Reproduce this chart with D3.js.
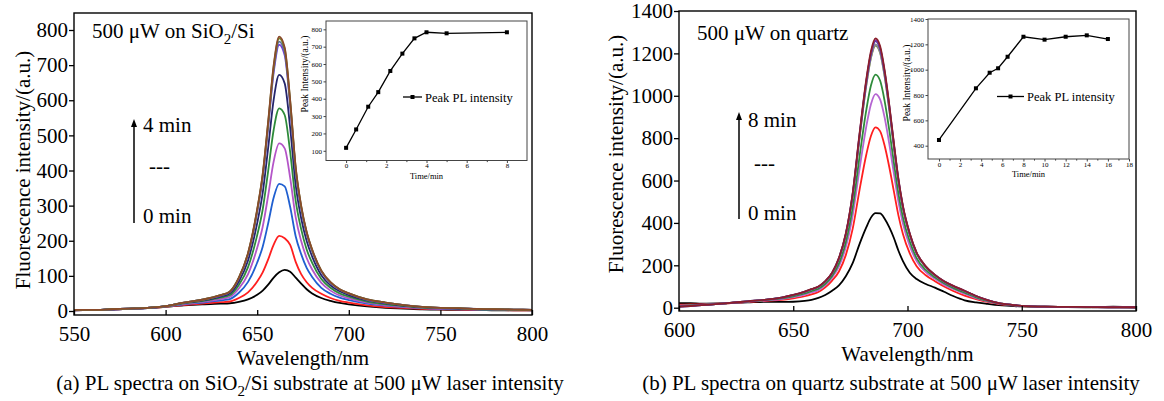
<!DOCTYPE html>
<html>
<head>
<meta charset="utf-8">
<script src="https://cdn.jsdelivr.net/npm/d3@7"></script>
<style>
  html, body { margin: 0; padding: 0; background: #fff; }
  svg { display: block; }
</style>
</head>
<body>
<svg id="fig" width="1164" height="401"></svg>
<script>
// ===================== Panel (a): SiO2/Si substrate =====================
const wavelengthA = [550,560,570,580,590,600,610,620,630,635,640,645,650,653,656,659,662,665,668,671,674,677,680,685,690,695,700,710,720,730,740,750,760,770,780,790,800];

const siCurve1  = [2,3,4,6,8,12,16,19,21,22,26,33,46,58,75,95,110,117,112,95,78,62,50,37,29,23,19,13,9,7,5,4,3,3,2,2,2];
const siCurve2  = [2,3,4,6,8,12,17,21,25,27,37,53,84,110,147,189,214,207,188,140,105,82,66,49,37,29,24,16,11,9,6,5,4,3,3,2,2];
const siCurve3  = [2,3,4,6,8,13,19,24,30,34,52,83,138,183,250,323,362,355,296,213,162,123,97,66,49,38,31,21,15,11,8,6,5,4,3,3,2];
const siCurve4  = [3,3,5,7,9,13,20,26,34,40,64,105,180,240,329,426,477,463,379,267,199,151,118,80,58,44,36,24,17,12,9,7,6,5,4,3,3];
const siCurve5  = [3,3,5,7,9,13,22,28,38,45,74,125,216,289,399,516,577,558,452,314,233,175,137,91,66,50,41,27,19,14,10,8,7,5,4,3,3];
const siCurve6  = [3,3,5,7,9,14,23,30,41,50,84,144,250,336,465,602,672,648,521,359,264,199,155,102,73,56,45,30,22,15,11,8,7,6,5,4,3];
const siCurve7  = [3,3,5,7,9,14,24,32,44,54,93,160,282,379,524,679,758,728,583,399,292,219,171,112,80,61,49,32,23,17,12,9,8,6,5,4,3];
const siCurve8  = [3,3,5,7,9,14,24,32,45,55,94,162,285,383,530,687,767,737,590,403,295,222,172,113,81,61,50,33,24,17,12,9,8,6,5,4,3];
const siCurve9  = [3,3,5,7,9,14,24,32,45,55,95,164,288,388,537,696,776,746,597,408,298,224,174,115,82,62,50,33,24,17,12,9,8,6,5,4,3];
const siCurve10 = [3,3,5,7,9,14,24,32,45,55,95,165,290,390,540,700,781,750,600,410,300,225,175,115,82,62,50,33,24,17,12,9,8,6,5,4,3];

const siColors = ["#000000","#ff1f1f","#1f5fd0","#b455c8","#2e8b3a","#25256b","#7440d8","#5c6f9c","#6f8a2c","#8a4a2a"];

const xTicksA = [550,600,650,700,750,800];
const yTicksA = [0,100,200,300,400,500,600,700,800];

const insetTimeA = [0,0.5,1.1,1.6,2.2,2.8,3.4,4,5,8];
const insetPeakA = [117,223,354,438,560,660,748,783,777,783];
const insetXTicksA = [0,2,4,6,8];
const insetXMinorA = [1,3,5,7];
const insetYTicksA = [100,200,300,400,500,600,700,800];

// ===================== Panel (b): quartz substrate =====================
const wavelengthB = [600,605,610,620,630,640,645,650,655,658,661,664,667,670,673,676,679,682,684,686,688,690,692,694,696,698,701,704,708,712,716,720,725,730,735,740,745,750,760,770,780,790,800];

const qzCurve1 = [22,22,19,21,25,28,27,28,32,37,46,60,80,105,148,210,300,380,425,446,445,420,380,330,270,220,165,135,112,95,75,55,35,25,18,12,9,6,4,3,2,5,1];
const qzCurve2 = [14,15,16,20,27,34,37,44,54,63,74,96,128,171,248,372,555,724,810,851,833,764,665,551,437,348,256,196,153,125,100,79,57,40,27,17,12,8,5,4,3,3,2];
const qzCurve3 = [10,12,14,20,28,36,41,50,62,72,83,107,142,195,286,435,654,857,960,1008,983,897,775,636,502,397,291,220,168,136,109,88,66,45,30,19,12,8,5,4,3,3,2];
const qzCurve4 = [9,11,13,20,29,38,44,53,67,78,89,113,150,209,309,472,712,935,1048,1100,1072,975,840,687,540,426,312,234,178,143,115,93,71,49,32,20,13,8,5,4,3,3,2];
const qzCurve5 = [6,9,12,20,30,40,47,59,74,86,98,123,162,230,342,526,799,1051,1178,1237,1203,1091,936,762,596,469,342,255,192,152,123,101,78,54,35,22,14,9,5,4,3,2,2];
const qzCurve6 = [6,9,12,20,30,40,47,59,74,86,98,123,162,231,343,528,802,1055,1183,1242,1207,1095,940,764,598,471,344,256,192,153,123,101,78,54,35,22,14,9,5,4,3,2,2];
const qzCurve7 = [5,8,12,20,30,40,48,59,75,87,99,124,164,233,347,535,812,1069,1197,1258,1222,1109,951,773,605,476,347,258,194,154,124,102,79,55,36,22,14,9,5,4,3,2,2];
const qzCurve8 = [5,8,12,20,30,40,48,60,76,87,99,124,164,234,348,536,814,1072,1201,1262,1226,1112,954,775,606,477,348,259,194,155,125,103,80,55,36,22,14,9,5,4,3,2,2];
const qzCurve9 = [5,8,12,20,30,40,48,60,76,88,100,125,165,235,350,540,820,1080,1210,1271,1235,1120,960,780,610,480,350,260,195,155,125,103,80,55,36,22,14,9,5,4,3,2,2];

const qzColors = ["#000000","#ff1f1f","#b565d2","#2e8b3a","#7a8c3a","#8a8a9a","#3a3a9a","#7a35a8","#8b1f2a"];

const xTicksB = [600,650,700,750,800];
const yTicksB = [0,200,400,600,800,1000,1200,1400];

const insetTimeB = [0,3.5,4.8,5.6,6.5,8,10,12,14,16];
const insetPeakB = [445,853,976,1011,1102,1260,1237,1260,1271,1242];
const insetXTicksB = [0,2,4,6,8,10,12,14,16,18];
const insetXMinorB = [1,3,5,7,9,11,13,15,17];
const insetYTicksB = [400,600,800,1000,1200,1400];

// ===================== Drawing =====================
const FONT = '"Liberation Serif","Times New Roman",Times,serif';
const svg = d3.select("#fig");

function styleAxis(sel, size) {
  sel.attr("font-family", FONT).attr("font-size", size);
  sel.select(".domain").remove();
  sel.selectAll(".tick text").attr("fill", "#000");
}

function addRichText(g, cfg, anchor) {
  const t = g.append("text").attr("x", cfg.x).attr("y", cfg.y)
    .attr("font-family", FONT).attr("font-size", 21);
  if (anchor) t.attr("text-anchor", anchor);
  cfg.parts.forEach(part => {
    const ts = t.append("tspan").text(part.text);
    if (part.sub) ts.attr("dy", 6).attr("font-size", 15);
    if (part.after) ts.attr("dy", -6);
  });
}

function drawSpectra(p) {
  const x = d3.scaleLinear().domain(p.xDomain).range([p.left, p.right]);
  const y = d3.scaleLinear().domain(p.yDomain).range([p.bottom, p.top]);
  const g = svg.append("g");

  const clipId = "clip-" + p.id;
  svg.append("clipPath").attr("id", clipId)
    .append("rect").attr("x", p.left).attr("y", p.top)
    .attr("width", p.right - p.left).attr("height", p.bottom - p.top);

  const line = d3.line()
    .x((d, i) => x(p.wl[i]))
    .y(d => y(d))
    .curve(d3.curveMonotoneX);

  const curves = g.append("g").attr("clip-path", `url(#${clipId})`);
  p.series.forEach((s, i) => {
    curves.append("path")
      .attr("d", line(s))
      .attr("fill", "none")
      .attr("stroke", p.colors[i])
      .attr("stroke-width", 1.8)
      .attr("stroke-linejoin", "round");
  });

  // x axis: ticks pointing inward
  const xa = g.append("g").attr("transform", `translate(0,${p.bottom})`)
    .call(d3.axisBottom(x).tickValues(p.xTicks).tickSizeInner(-5).tickSizeOuter(0)
      .tickPadding(p.xPad).tickFormat(d3.format("d")));
  styleAxis(xa, 21);
  xa.selectAll(".tick line").attr("stroke-width", 1.3);

  // y axis: ticks pointing outward
  const ya = g.append("g").attr("transform", `translate(${p.left},0)`)
    .call(d3.axisLeft(y).tickValues(p.yTicks).tickSizeInner(5).tickSizeOuter(0)
      .tickPadding(1).tickFormat(d3.format("d")));
  styleAxis(ya, 21);
  ya.selectAll(".tick line").attr("stroke-width", 1.3);

  // frame
  g.append("rect").attr("x", p.left).attr("y", p.top)
    .attr("width", p.right - p.left).attr("height", p.bottom - p.top)
    .attr("fill", "none").attr("stroke", "#000").attr("stroke-width", 1.4);

  // axis titles
  g.append("text").attr("x", (p.left + p.right) / 2).attr("y", p.xTitleY)
    .attr("text-anchor", "middle").attr("font-family", FONT).attr("font-size", 21)
    .text("Wavelength/nm");
  g.append("text").attr("transform", `translate(${p.yTitleX},${p.yTitleCY}) rotate(-90)`)
    .attr("text-anchor", "middle").attr("font-family", FONT).attr("font-size", 21)
    .text("Fluorescence intensity/(a.u.)");

  // time arrow with labels
  const a = p.arrow;
  g.append("line").attr("x1", a.x).attr("x2", a.x).attr("y1", a.y0).attr("y2", a.y1 + 6)
    .attr("stroke", "#000").attr("stroke-width", 1.5);
  g.append("path")
    .attr("d", `M${a.x - 3},${a.y1 + 8} L${a.x},${a.y1} L${a.x + 3},${a.y1 + 8} Z`)
    .attr("fill", "#000");
  g.append("text").attr("x", a.tx).attr("y", a.topY).attr("font-family", FONT).attr("font-size", 21)
    .text(a.topLabel);
  g.append("text").attr("x", a.dx).attr("y", a.dashY).attr("font-family", FONT).attr("font-size", 21)
    .text("---");
  g.append("text").attr("x", a.tx).attr("y", a.botY).attr("font-family", FONT).attr("font-size", 21)
    .text(a.botLabel);

  addRichText(g, p.label, null);
  addRichText(g, p.caption, "middle");
}

function drawInset(p) {
  const x = d3.scaleLinear().domain(p.xDomain).range([p.left, p.right]);
  const y = d3.scaleLinear().domain(p.yDomain).range([p.bottom, p.top]);
  const g = svg.append("g");

  g.append("rect").attr("x", p.left).attr("y", p.top)
    .attr("width", p.right - p.left).attr("height", p.bottom - p.top)
    .attr("fill", "#fff").attr("stroke", "#444").attr("stroke-width", 1);

  const xa = g.append("g").attr("transform", `translate(0,${p.bottom})`)
    .call(d3.axisBottom(x).tickValues(p.xTicks).tickSizeInner(2.5).tickSizeOuter(0)
      .tickPadding(0.5).tickFormat(d3.format("d")));
  styleAxis(xa, 7);
  xa.selectAll(".tick line").attr("stroke", "#444");
  g.append("g").attr("transform", `translate(0,${p.bottom})`)
    .call(d3.axisBottom(x).tickValues(p.xMinor).tickSizeInner(1.6).tickSizeOuter(0).tickFormat(""))
    .call(s => { s.select(".domain").remove(); s.selectAll(".tick line").attr("stroke", "#444"); });

  const ya = g.append("g").attr("transform", `translate(${p.left},0)`)
    .call(d3.axisLeft(y).tickValues(p.yTicks).tickSizeInner(2.5).tickSizeOuter(0)
      .tickPadding(1.5).tickFormat(d3.format("d")));
  styleAxis(ya, 7);
  ya.selectAll(".tick line").attr("stroke", "#444");

  const line = d3.line().x((d, i) => x(p.time[i])).y(d => y(d));
  g.append("path").attr("d", line(p.peak)).attr("fill", "none")
    .attr("stroke", "#000").attr("stroke-width", 1.3);
  g.selectAll(null).data(p.peak).enter().append("rect")
    .attr("x", (d, i) => x(p.time[i]) - 2).attr("y", d => y(d) - 2)
    .attr("width", 4).attr("height", 4).attr("fill", "#000");

  g.append("text").attr("x", (p.left + p.right) / 2).attr("y", p.xTitleY)
    .attr("text-anchor", "middle").attr("font-family", FONT).attr("font-size", 8.5)
    .text("Time/min");
  g.append("text").attr("transform", `translate(${p.yTitleX},${p.yTitleCY}) rotate(-90)`)
    .attr("text-anchor", "middle").attr("font-family", FONT).attr("font-size", 9.5)
    .text("Peak Intensity/(a.u.)");

  // legend
  const L = p.legend;
  g.append("line").attr("x1", L.x).attr("x2", L.x + L.len).attr("y1", L.y).attr("y2", L.y)
    .attr("stroke", "#000").attr("stroke-width", 1.3);
  g.append("rect").attr("x", L.x + L.len / 2 - 2).attr("y", L.y - 2).attr("width", 4).attr("height", 4).attr("fill", "#000");
  g.append("text").attr("x", L.x + L.len + 3).attr("y", L.y + 4.5)
    .attr("font-family", FONT).attr("font-size", 12.5).text("Peak PL intensity");
}

drawSpectra({
  id: "a",
  wl: wavelengthA,
  series: [siCurve1, siCurve2, siCurve3, siCurve4, siCurve5, siCurve6, siCurve7, siCurve8, siCurve9, siCurve10],
  colors: siColors,
  xDomain: [550, 800], yDomain: [-11.4, 848.4],
  left: 74, right: 532, top: 13, bottom: 315,
  xTicks: xTicksA, yTicks: yTicksA, xPad: 11,
  xTitleY: 365, yTitleX: 30, yTitleCY: 170,
  arrow: { x: 134, y0: 223, y1: 119, tx: 143, dx: 149, topY: 132, dashY: 173, botY: 223, topLabel: "4 min", botLabel: "0 min" },
  label: { x: 92, y: 38, parts: [{ text: "500 μW on SiO" }, { text: "2", sub: true }, { text: "/Si", after: true }] },
  caption: { x: 310, y: 390, parts: [{ text: "(a) PL spectra on SiO" }, { text: "2", sub: true }, { text: "/Si substrate at 500 μW laser intensity", after: true }] }
});

drawSpectra({
  id: "b",
  wl: wavelengthB,
  series: [qzCurve1, qzCurve2, qzCurve3, qzCurve4, qzCurve5, qzCurve6, qzCurve7, qzCurve8, qzCurve9],
  colors: qzColors,
  xDomain: [600, 800], yDomain: [-15.6, 1400],
  left: 679, right: 1136, top: 11, bottom: 311,
  xTicks: xTicksB, yTicks: yTicksB, xPad: 11,
  xTitleY: 361, yTitleX: 623, yTitleCY: 154,
  arrow: { x: 739, y0: 219, y1: 112, tx: 748, dx: 754, topY: 127, dashY: 170, botY: 220, topLabel: "8 min", botLabel: "0 min" },
  label: { x: 697, y: 40, parts: [{ text: "500 μW on quartz" }] },
  caption: { x: 891, y: 390, parts: [{ text: "(b) PL spectra on quartz substrate at 500 μW laser intensity" }] }
});

drawInset({
  time: insetTimeA, peak: insetPeakA,
  xDomain: [-1, 9], yDomain: [44, 848],
  left: 326, right: 527, top: 21, bottom: 160.5,
  xTicks: insetXTicksA, xMinor: insetXMinorA, yTicks: insetYTicksA,
  xTitleY: 178.5, yTitleX: 308, yTitleCY: 74,
  legend: { x: 403, y: 97, len: 19 }
});

drawInset({
  time: insetTimeB, peak: insetPeakB,
  xDomain: [-1.04, 18], yDomain: [295, 1400],
  left: 928, right: 1129, top: 19, bottom: 159,
  xTicks: insetXTicksB, xMinor: insetXMinorB, yTicks: insetYTicksB,
  xTitleY: 177, yTitleX: 910, yTitleCY: 83,
  legend: { x: 997, y: 96.5, len: 27 }
});
</script>
</body>
</html>
